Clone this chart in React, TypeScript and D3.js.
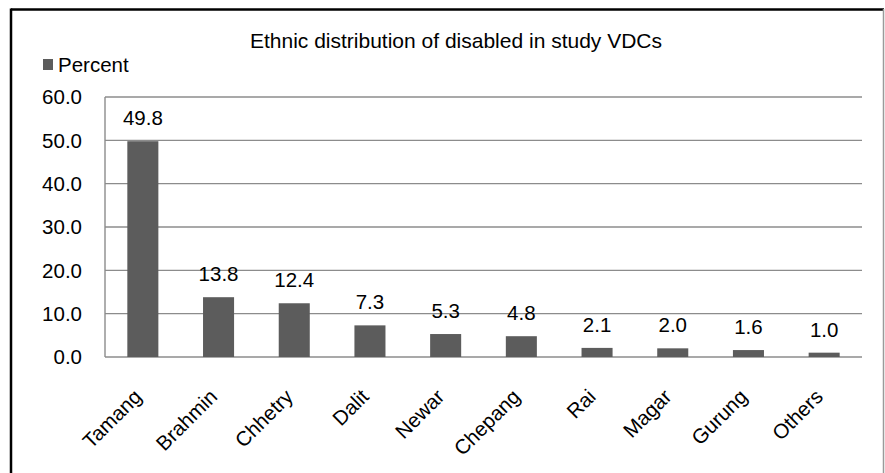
import React from "react";
import * as d3 from "d3";

const categories = ["Tamang", "Brahmin", "Chhetry", "Dalit", "Newar", "Chepang", "Rai", "Magar", "Gurung", "Others"];
const percentValues = [49.8, 13.8, 12.4, 7.3, 5.3, 4.8, 2.1, 2.0, 1.6, 1.0];
const yTicks = [0, 10, 20, 30, 40, 50, 60];
const titleText = "Ethnic distribution of disabled in study VDCs";
const seriesName = "Percent";

const W = 885;
const H = 473;
const plotLeft = 105;
const plotRight = 862;
const plotTop = 97;
const plotBottom = 357;
const barColor = "#5c5c5c";
const gridColor = "#8c8c8c";
const font = "'Liberation Sans', Arial, sans-serif";

export default function App() {
  const x = d3
    .scaleBand<string>()
    .domain(categories)
    .range([plotLeft, plotRight])
    .paddingInner(0.59)
    .paddingOuter(0.295);
  const y = d3.scaleLinear().domain([0, 60]).range([plotBottom, plotTop]);

  return (
    <svg
      width={W}
      height={H}
      style={{ position: "absolute", left: 0, top: 0, background: "#fff" }}
      fontFamily={font}
    >
      <rect x={0} y={0} width={W} height={H} fill="#fff" />
      {/* outer chart border */}
      <line x1={11} y1={9.5} x2={884} y2={9.5} stroke="#000" strokeWidth={2.5} />
      <line x1={11} y1={8.5} x2={11} y2={H} stroke="#000" strokeWidth={2.5} />
      <line x1={883.5} y1={9} x2={883.5} y2={H} stroke="#9a9a9a" strokeWidth={1.5} />

      <text x={456} y={48} textAnchor="middle" fontSize={21} fill="#000">
        {titleText}
      </text>

      {/* legend */}
      <rect x={43} y={59} width={10} height={11} fill={barColor} />
      <text x={58} y={72} fontSize={20.5} fill="#000">
        {seriesName}
      </text>

      {/* gridlines */}
      {yTicks.map((t) => (
        <g key={t}>
          <line
            x1={plotLeft}
            x2={plotRight}
            y1={y(t)}
            y2={y(t)}
            stroke={gridColor}
            strokeWidth={1.4}
          />
          <text x={82} y={y(t)} dy="0.35em" textAnchor="end" fontSize={20.5} fill="#000">
            {d3.format(".1f")(t)}
          </text>
        </g>
      ))}
      <line x1={plotLeft} x2={plotLeft} y1={plotTop} y2={plotBottom} stroke={gridColor} strokeWidth={1.4} />

      {/* bars */}
      {categories.map((c, i) => {
        const v = percentValues[i];
        const bx = x(c) as number;
        return (
          <g key={c}>
            <rect x={bx} y={y(v)} width={x.bandwidth()} height={plotBottom - y(v)} fill={barColor} />
            <text
              x={bx + x.bandwidth() / 2}
              y={y(v) - 16}
              textAnchor="middle"
              fontSize={20.5}
              fill="#000"
            >
              {d3.format(".1f")(v)}
            </text>
            <text
              transform={`translate(${bx + x.bandwidth() / 2},${plotBottom + 41}) rotate(-45)`}
              textAnchor="end"
              fontSize={20.5}
              fill="#000"
            >
              {c}
            </text>
          </g>
        );
      })}
    </svg>
  );
}
